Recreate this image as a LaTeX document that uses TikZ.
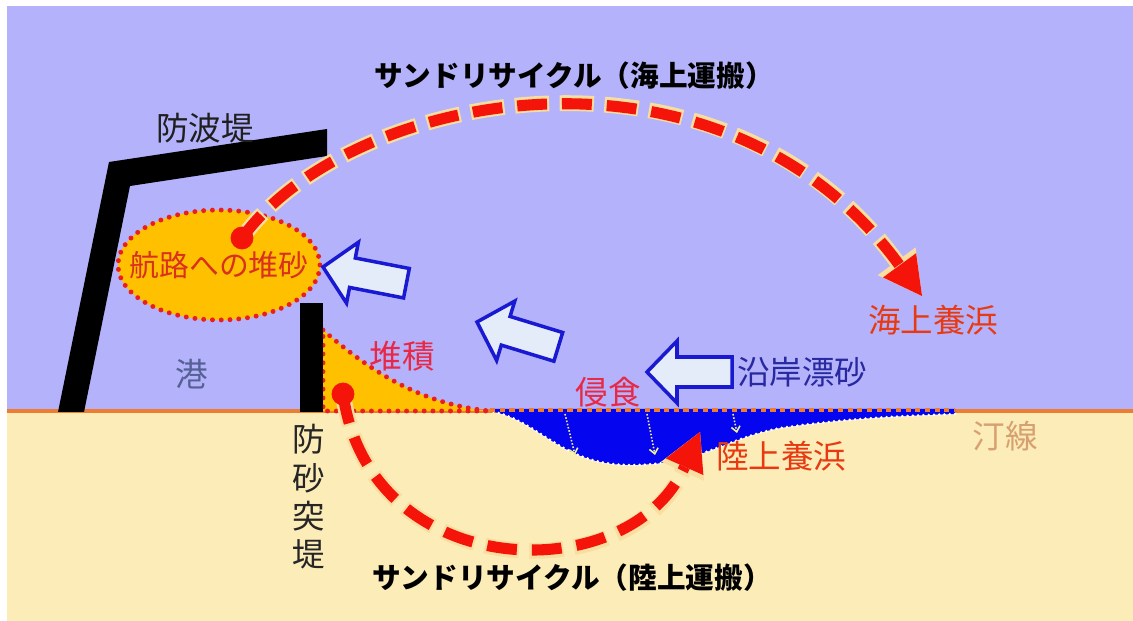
\documentclass[tikz,border=0pt]{standalone}
\usepackage{fontspec}
\newfontfamily\jp{Noto Sans CJK JP}
\usetikzlibrary{shapes.geometric,arrows.meta}

\definecolor{sea}{RGB}{180,178,250}
\definecolor{sand}{RGB}{252,236,184}
\definecolor{shore}{RGB}{236,125,50}
\definecolor{sandfill}{RGB}{255,192,0}
\definecolor{dotred}{RGB}{235,30,30}
\definecolor{arcred}{RGB}{245,20,10}
\definecolor{glow}{RGB}{248,222,160}
\definecolor{erode}{RGB}{5,5,240}
\definecolor{driftline}{RGB}{25,25,210}
\definecolor{driftfill}{RGB}{228,236,250}
\definecolor{depo}{RGB}{232,40,70}
\definecolor{nourish}{RGB}{232,58,18}
\definecolor{drifttxt}{RGB}{40,40,160}
\definecolor{harbour}{RGB}{85,96,150}
\definecolor{shoretxt}{RGB}{214,160,112}
\definecolor{chan}{RGB}{218,48,30}
\definecolor{seep}{RGB}{240,240,150}

\tikzset{
  driftarrow/.pic={
    \draw[drift] (0,0) -- (30,-31) -- (30,-15) -- (85,-15) -- (85,15) -- (30,15) -- (30,31) -- cycle;
  }
}

\begin{document}
\begin{tikzpicture}[x=0.02cm,y=-0.02cm,
    lbl/.style={font=\jp\fontsize{18.5}{22}\selectfont, inner sep=0pt},
    title/.style={font=\jp\bfseries\fontsize{16.3}{19}\selectfont, inner sep=0pt},
    reddots/.style={draw=dotred, line width=2.8pt, dash pattern=on 0pt off 5pt, line cap=round},
    drift/.style={draw=driftline, fill=driftfill, line width=2pt, line join=miter},
    seepage/.style={seep, line width=0.9pt, densely dotted, -{Straight Barb[length=3pt,width=5pt]}},
    cycleglow/.style={draw=glow, line width=9pt, dash pattern=on 19.5pt off 6pt, dash phase=1.25pt},
    cyclearc/.style={draw=arcred, line width=6.3pt, dash pattern=on 17pt off 8.5pt}]
	\useasboundingbox (0,0) rectangle (1133,621);
	\fill[white] (0,0) rectangle (1133,621);
	% sea, beach and shoreline
	\fill[sea] (7,6) rectangle (1133,411);
	\fill[sand] (7,411) rectangle (1133,621);
	\draw[shore, line width=2.4pt] (7,411) -- (1133,411);

	% deposit against the groin
	\filldraw[fill=sandfill, reddots] (323,330) .. controls (380,380) and (430,405) .. (490,411) -- (323,411) -- cycle;

	% eroded beach
	\fill[erode] (490,409) -- (955,409) -- (955,414) .. controls (900,416) and (850,418) .. (780,428)
		.. controls (720,440) and (700,465) .. (630,465) .. controls (560,465) and (540,420) .. (490,411) -- cycle;
	\draw[white, line width=1.6pt, dash pattern=on 0pt off 3pt, line cap=round] (955,414) .. controls (900,416) and (850,418) .. (780,428)
		.. controls (720,440) and (700,465) .. (630,465) .. controls (560,465) and (540,420) .. (490,411);
	\draw[shore, line width=2.2pt, dash pattern=on 3pt off 2.5pt] (490,410) -- (955,410);
	\draw[seepage] (565,414) -- (575,455);
	\draw[seepage] (647,414) -- (655,455);
	\draw[seepage] (733,414) -- (737,433);

	% breakwater and groin
	\fill[black] (58,412) -- (109,162) -- (327,129) -- (327,156) -- (130,186) -- (84,412) -- cycle;
	\fill[black] (300,303) rectangle (323,412);

	% sand in the channel
	\node[ellipse, fill=sandfill, reddots, minimum width=4.04cm, minimum height=2.2cm, inner sep=0pt] (channel) at (219,265) {};
	\node[text=chan, font=\jp\fontsize{17}{20}\selectfont, inner sep=0pt] (channeltext) at (channel.center) {航路への堆砂};

	% littoral drift
	\pic[rotate=-11] (driftA) at (323,267) {driftarrow};
	\pic[rotate=-17] (driftB) at (477,322) {driftarrow};
	\pic (driftC) at (647,372) {driftarrow};

	% labels
	\node[lbl, text=black!88] (breakwater) at (205,128) {防波堤};
	\node[lbl, text=harbour] (port) at (192,374) {港};
	\node[lbl, text=depo] (deposit) at (402,356) {堆積};
	\node[lbl, text=depo] (erosion) at (608,392) {侵食};
	\node[lbl, text=drifttxt] (littoral) at (802,372) {沿岸漂砂};
	\node[lbl, text=nourish] (seanour) at (933,320) {海上養浜};
	\node[lbl, text=nourish] (landnour) at (781,456) {陸上養浜};
	\node[lbl, text=shoretxt] (shoreline) at (1005,436) {汀線};
	\node[lbl, text=black!85, align=center, font=\jp\fontsize{18.5}{21.8}\selectfont] (groin) at (309,497) {防\\砂\\突\\堤};
	\node[title] (seatitle) at (574,76) {サンドリサイクル（海上運搬）};
	\node[title] (landtitle) at (572,578) {サンドリサイクル（陸上運搬）};

	% sand recycling by sea and by land
	\coordinate (seastart) at (242,238);
	\coordinate (seaend) at (922,296);
	\coordinate (landstart) at (343,394);
	\coordinate (landend) at (700,432);
	\draw[cycleglow, -{Triangle[length=0.86cm,width=0.94cm,line width=0pt]}] (seastart) .. controls (350,90) and (720,20) .. (seaend);
	\draw[cyclearc, -{Triangle[length=0.76cm,width=0.82cm,line width=0pt]}] (seastart) .. controls (350,90) and (720,20) .. (seaend);
	\fill[arcred] (seastart) circle[radius=6.5pt];
	\draw[cycleglow, -{Triangle[length=0.86cm,width=0.94cm,line width=0pt]}] (landstart) .. controls (370,585) and (630,590) .. (landend);
	\draw[cyclearc, -{Triangle[length=0.76cm,width=0.82cm,line width=0pt]}] (landstart) .. controls (370,585) and (630,590) .. (landend);
	\fill[arcred] (landstart) circle[radius=6.5pt];
\end{tikzpicture}
\end{document}
